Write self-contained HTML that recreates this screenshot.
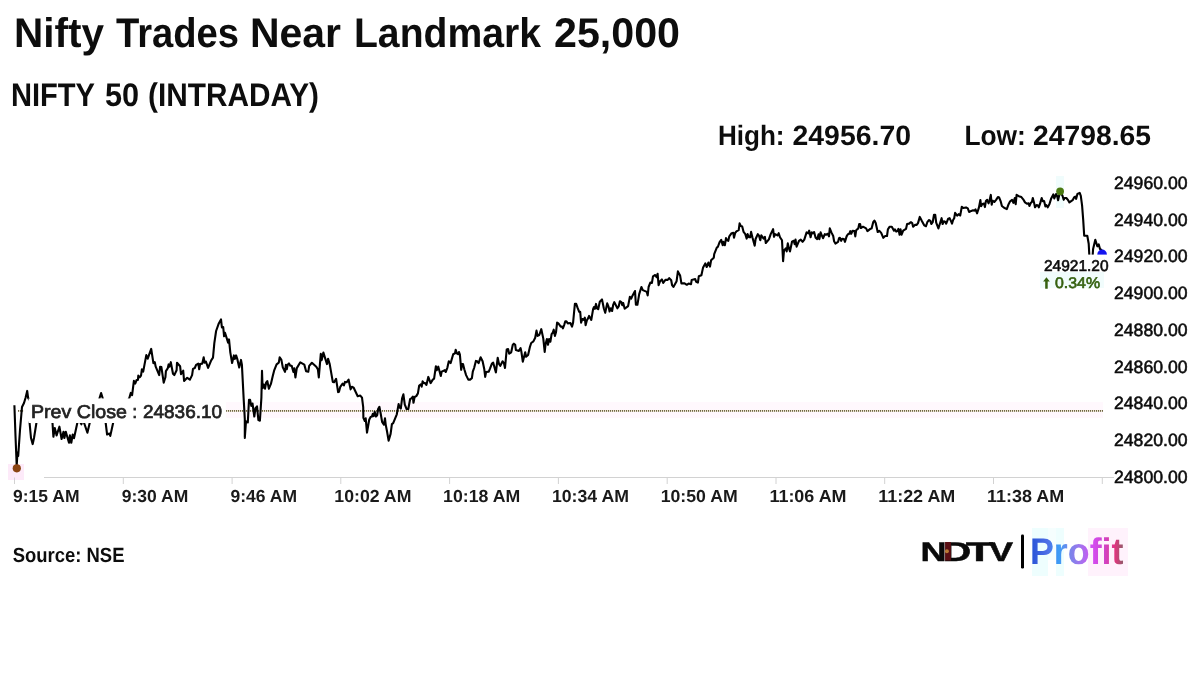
<!DOCTYPE html>
<html lang="en">
<head>
<meta charset="utf-8">
<title>Nifty Trades Near Landmark 25,000</title>
<style>
html,body{margin:0;padding:0;background:#fff;}
body{width:1200px;height:675px;overflow:hidden;font-family:"Liberation Sans",sans-serif;}
svg{display:block;}
text{font-family:"Liberation Sans",sans-serif;text-rendering:geometricPrecision;}
.b{font-weight:700;}
</style>
</head>
<body>
<svg width="1200" height="675" viewBox="0 0 1200 675">
<defs>
<linearGradient id="pg" gradientUnits="userSpaceOnUse" x1="1032" y1="0" x2="1124" y2="0">
<stop offset="0" stop-color="#2b55d8"/>
<stop offset="0.17" stop-color="#4f6fe6"/>
<stop offset="0.29" stop-color="#3b9cf6"/>
<stop offset="0.42" stop-color="#7b84ea"/>
<stop offset="0.53" stop-color="#a374ee"/>
<stop offset="0.66" stop-color="#d44df2"/>
<stop offset="0.78" stop-color="#cf45cf"/>
<stop offset="0.90" stop-color="#e2347f"/>
<stop offset="1" stop-color="#8a6068"/>
</linearGradient>
</defs>
<rect width="1200" height="675" fill="#fff"/>

<!-- faint tints -->
<g>
<rect x="8" y="464" width="16" height="16" fill="#fdeaf9"/>
<rect x="226" y="402" width="877" height="16" fill="#fff8fd"/>
<rect x="1056" y="176" width="8" height="32" fill="#f0fcfc"/>
<rect x="1032" y="528" width="16" height="48" fill="#eefefe"/>
<rect x="1048" y="528" width="8" height="32" fill="#f5fefe"/>
<rect x="1056" y="528" width="8" height="48" fill="#eefefe"/>
<rect x="1088" y="528" width="40" height="48" fill="#fff2fc"/>
</g>

<!-- headings -->
<g class="b" fill="#0d0d0d">
<text x="13.95" y="46.5" font-size="41.4" textLength="90.05" lengthAdjust="spacingAndGlyphs" >Nifty</text><text x="116.00" y="46.5" font-size="41.4" textLength="123.00" lengthAdjust="spacingAndGlyphs" >Trades</text><text x="249.92" y="46.5" font-size="41.4" textLength="91.08" lengthAdjust="spacingAndGlyphs" >Near</text><text x="353.98" y="46.5" font-size="41.4" textLength="187.02" lengthAdjust="spacingAndGlyphs" >Landmark</text><text x="553.98" y="46.5" font-size="41.4" textLength="126.03" lengthAdjust="spacingAndGlyphs" >25,000</text>
<text x="10.95" y="105.5" font-size="32.7" textLength="84.07" lengthAdjust="spacingAndGlyphs" >NIFTY</text><text x="104.96" y="105.5" font-size="32.7" textLength="34.08" lengthAdjust="spacingAndGlyphs" >50</text><text x="147.99" y="105.5" font-size="32.7" textLength="171.02" lengthAdjust="spacingAndGlyphs" >(INTRADAY)</text>
<text x="717.95" y="145.0" font-size="27.9" textLength="66.63" lengthAdjust="spacingAndGlyphs" >High:</text><text x="792.48" y="145.0" font-size="27.9" textLength="118.53" lengthAdjust="spacingAndGlyphs" >24956.70</text>
<text x="964.41" y="145.0" font-size="27.9" textLength="61.45" lengthAdjust="spacingAndGlyphs" >Low:</text><text x="1032.99" y="145.0" font-size="27.9" textLength="118.02" lengthAdjust="spacingAndGlyphs" >24798.65</text>
</g>

<!-- axis -->
<g stroke="#d2d2d2" stroke-width="1" fill="none">
<line x1="44" y1="477.5" x2="1114" y2="477.5"/>
<line x1="14.5" y1="477.5" x2="14.5" y2="484" /><line x1="123.3" y1="477.5" x2="123.3" y2="484" /><line x1="232.1" y1="477.5" x2="232.1" y2="484" /><line x1="340.8" y1="477.5" x2="340.8" y2="484" /><line x1="449.6" y1="477.5" x2="449.6" y2="484" /><line x1="558.4" y1="477.5" x2="558.4" y2="484" /><line x1="667.2" y1="477.5" x2="667.2" y2="484" /><line x1="776.0" y1="477.5" x2="776.0" y2="484" /><line x1="884.7" y1="477.5" x2="884.7" y2="484" /><line x1="993.5" y1="477.5" x2="993.5" y2="484" /><line x1="1102.3" y1="477.5" x2="1102.3" y2="484" />
</g>

<!-- prev close dotted line -->
<path d="M18 410.9H23.5M226 410.9H1103" fill="none" stroke="#e9e3cd" stroke-width="1.7"/><path d="M18 410.9H23.5M226 410.9H1103" fill="none" stroke="#6f6545" stroke-width="1.7" stroke-dasharray="1 1"/>

<!-- price line -->
<polyline fill="none" stroke="#000" stroke-width="2.1" stroke-linejoin="round" stroke-linecap="butt" points="14.4,405.3 15.5,436.0 16.7,465.5 17.5,452.5 18.2,456.0 20.0,430.0 22.0,407.0 24.0,403.0 25.5,398.0 27.2,390.9 28.1,397.8 30.2,401.0 30.2,420.0 29.6,423.0 31.0,438.0 32.7,444.1 34.0,438.0 36.4,423.0 38.0,415.0 42.0,412.0 46.0,416.0 50.0,414.0 52.5,423.0 53.4,436.8 54.8,428.0 56.6,435.4 59.4,426.7 61.6,439.0 63.5,431.7 64.4,438.0 65.8,431.7 69.0,442.8 69.9,435.4 71.3,442.8 72.7,434.5 74.0,438.2 77.3,423.0 79.0,420.0 81.4,424.3 82.5,420.0 84.1,423.0 87.4,432.7 89.7,423.0 92.0,415.0 95.0,410.0 98.0,405.0 99.5,398.3 101.1,393.0 102.7,398.3 104.0,410.0 105.7,423.0 107.1,434.5 109.4,433.6 110.3,435.9 113.1,423.0 116.0,415.0 120.0,410.0 124.0,406.0 127.0,402.0 129.4,397.8 130.8,392.9 132.1,395.1 133.9,380.9 135.2,383.6 136.6,380.0 137.9,380.0 138.3,375.6 139.7,377.3 141.0,375.6 141.9,369.3 143.2,371.6 146.3,355.1 147.7,358.7 151.2,348.9 153.4,363.1 154.8,362.2 155.7,366.7 159.2,375.1 160.1,366.7 161.4,367.1 163.7,382.7 165.4,377.3 165.9,371.1 167.7,368.4 168.6,364.4 169.4,366.7 170.8,362.2 173.0,373.8 174.3,375.1 176.6,370.2 177.0,362.7 180.1,366.2 181.0,374.2 183.2,370.7 184.1,380.9 187.2,377.8 189.9,379.6 192.1,375.1 193.0,368.9 194.8,368.0 196.1,364.9 198.3,363.6 199.2,369.3 200.1,364.0 202.3,363.6 203.7,357.3 204.6,362.7 205.9,361.5 208.1,367.9 211.2,360.3 213.0,357.7 214.3,343.4 216.1,331.0 218.8,323.4 221.0,319.4 221.9,327.4 223.2,327.0 224.1,336.3 225.0,332.8 228.1,342.6 229.0,339.4 230.3,352.3 232.1,363.0 233.9,355.4 234.8,359.0 236.1,355.4 237.4,359.4 239.2,367.4 241.0,359.9 241.9,364.6 243.6,397.6 244.8,418.9 244.8,437.9 246.0,421.3 247.8,422.4 249.0,399.9 250.1,399.9 251.3,405.9 252.5,403.5 254.3,416.5 255.5,408.2 257.0,406.4 258.4,420.1 259.9,420.7 261.4,397.6 262.0,370.9 262.6,388.1 263.8,384.5 265.0,388.7 266.1,382.7 267.3,381.0 268.9,388.7 270.9,383.9 272.7,376.2 274.3,370.1 276.6,364.3 278.8,362.6 279.7,357.2 281.4,359.9 282.8,367.4 285.0,371.9 285.9,364.8 286.8,369.2 287.7,364.8 289.0,363.4 290.3,365.7 291.7,365.7 293.4,371.9 294.3,368.3 295.4,377.5 296.8,368.1 300.3,362.3 304.3,364.6 306.1,371.2 308.3,371.7 309.2,365.9 311.9,362.8 316.3,366.8 317.9,369.4 318.8,377.4 320.8,353.9 321.7,360.1 323.4,352.6 327.0,364.1 328.1,358.8 329.7,364.1 332.8,381.9 334.1,382.3 336.1,378.8 338.1,392.1 339.0,391.7 340.3,386.8 342.6,383.7 343.9,385.4 345.0,381.9 346.6,382.3 348.6,379.7 350.6,389.4 351.9,386.8 353.7,387.7 357.7,396.3 360.3,395.6 362.0,397.7 363.2,407.2 363.4,417.9 364.8,421.0 365.7,418.3 367.0,432.6 369.2,419.7 370.6,417.0 371.9,416.6 372.8,413.9 373.7,416.1 374.7,411.7 375.9,416.6 377.2,415.2 378.1,409.0 379.4,406.8 380.8,414.3 382.1,421.9 383.9,424.6 385.0,418.3 385.7,424.6 387.0,431.2 388.6,440.6 390.6,433.9 391.9,424.1 393.2,423.2 396.8,414.3 398.6,404.1 399.4,407.2 400.8,408.6 402.1,398.3 403.4,394.3 404.8,404.6 406.6,409.0 408.3,409.0 410.1,399.2 411.4,398.3 412.8,396.6 413.5,402.8 414.6,397.0 416.3,396.1 417.9,393.4 419.2,385.5 420.8,384.4 421.7,386.7 422.6,381.3 423.9,383.1 425.2,383.1 426.4,384.9 428.3,376.9 430.6,383.1 432.8,379.6 434.1,378.7 435.9,366.2 436.8,370.2 438.3,366.7 440.8,376.0 441.7,371.6 444.8,370.2 445.7,372.0 447.4,367.6 448.8,361.3 450.6,363.1 453.2,354.2 455.0,353.3 455.7,349.8 456.8,353.3 458.1,354.2 459.0,352.0 459.9,354.7 461.2,369.8 462.1,364.0 463.0,364.0 464.3,369.3 466.1,375.1 468.3,379.6 470.1,379.6 471.9,378.2 472.8,371.6 474.1,368.0 475.9,360.9 477.2,361.3 478.6,363.1 480.6,357.3 482.6,361.3 484.3,369.3 485.2,376.9 486.1,372.0 488.8,371.6 490.1,368.4 491.9,363.6 493.2,362.7 495.9,372.4 497.7,357.8 499.0,364.0 500.3,365.8 502.6,361.3 503.9,363.1 505.0,368.0 506.7,349.5 508.1,349.0 509.2,353.7 511.2,352.3 512.8,344.8 513.9,343.7 515.2,344.8 515.9,350.1 518.8,351.0 520.6,348.1 521.4,351.9 522.8,361.7 525.2,352.3 526.1,356.8 528.1,355.0 529.9,347.0 531.2,343.0 533.4,341.4 535.2,337.7 536.5,330.6 537.6,335.9 539.3,335.0 541.3,329.2 543.3,338.6 544.7,351.9 545.6,343.9 546.9,339.0 548.0,344.8 549.1,339.0 550.4,341.7 551.6,334.1 552.7,332.8 553.7,329.7 554.9,335.9 556.0,332.3 557.1,322.6 558.4,323.4 560.7,326.6 562.0,326.6 562.9,328.3 564.4,324.3 565.3,321.2 566.4,321.2 567.8,323.4 570.4,323.0 572.0,326.6 573.1,322.6 574.2,311.0 574.9,303.9 576.2,303.9 577.6,307.9 579.2,311.9 580.2,311.9 581.1,322.6 582.4,319.0 583.8,319.9 584.8,317.7 585.6,325.2 586.9,320.3 588.2,318.1 589.1,315.9 591.3,319.9 593.1,309.2 594.0,307.0 594.9,308.8 596.0,303.9 596.9,308.3 598.2,309.2 599.8,301.7 602.0,299.4 603.8,308.3 605.2,312.8 607.2,303.4 608.6,307.0 609.6,311.4 610.8,308.3 612.1,311.0 613.2,304.8 614.3,302.1 617.4,308.3 618.8,306.1 619.9,301.2 621.4,302.1 622.3,305.2 623.2,303.0 624.7,308.8 628.1,306.1 629.9,296.8 631.2,298.6 632.6,295.4 635.0,291.0 635.9,304.8 637.4,304.8 639.2,294.1 641.4,287.0 642.8,290.1 646.8,291.9 647.7,295.4 648.6,287.0 650.3,282.6 651.9,283.0 653.0,276.3 655.2,275.0 656.6,277.2 657.6,273.7 658.6,285.2 660.1,281.2 661.9,279.4 663.2,283.0 665.4,279.9 667.7,279.9 669.2,278.1 671.2,280.3 672.1,285.2 673.4,287.0 676.6,281.2 677.9,271.4 680.1,275.4 681.4,283.4 684.6,283.4 686.8,284.8 688.6,283.6 691.0,284.3 691.7,279.9 695.2,279.0 696.1,281.7 697.9,282.6 698.8,276.3 701.4,275.3 703.1,267.4 705.3,263.4 706.7,267.0 708.4,262.6 710.0,266.6 711.1,260.3 713.8,257.7 714.2,254.1 716.9,247.4 717.8,247.0 719.6,242.1 721.2,239.9 722.7,245.2 723.3,241.7 724.9,245.2 726.0,238.1 727.1,240.3 728.3,240.8 729.3,236.3 731.6,233.2 733.3,232.8 734.0,237.7 735.1,233.2 736.4,231.4 738.7,230.1 739.6,223.4 740.9,226.1 742.2,226.6 743.6,231.9 745.3,234.1 746.7,238.6 747.6,234.1 748.9,237.2 750.2,237.2 751.1,231.9 752.4,237.2 754.7,245.7 755.6,239.0 757.8,234.1 759.1,235.9 760.3,240.3 761.3,235.4 763.6,238.6 764.9,236.8 765.8,243.0 768.9,239.4 770.7,234.1 773.1,229.2 774.0,236.8 775.1,234.1 777.5,235.4 778.7,233.2 780.0,237.2 782.0,240.3 783.1,261.2 784.0,250.6 785.8,248.3 786.7,251.4 787.8,243.4 788.9,248.3 790.0,251.4 792.0,241.7 793.8,240.8 794.7,244.3 795.5,239.5 796.6,246.7 799.0,240.9 800.8,239.6 802.6,241.8 804.3,239.6 806.6,232.4 808.3,233.3 809.2,230.7 810.6,237.3 811.7,232.4 812.8,233.3 814.1,232.0 815.6,237.8 817.2,239.1 818.6,234.2 819.4,239.1 820.6,232.4 821.7,235.1 823.0,238.2 824.8,234.2 826.1,234.7 827.9,233.8 829.0,236.4 829.8,228.4 831.4,232.4 833.2,236.0 834.1,241.3 835.4,243.6 838.1,241.8 839.0,238.2 839.9,237.8 841.2,240.9 842.1,238.7 843.9,239.1 845.0,241.8 846.6,236.4 847.9,234.2 849.2,233.8 850.3,231.1 851.2,233.8 852.6,230.7 854.4,231.1 855.3,236.4 856.2,230.2 858.3,228.4 859.2,224.0 860.1,224.0 860.9,228.0 863.0,226.7 866.1,228.4 867.4,231.1 869.7,229.3 871.6,228.4 873.2,222.2 874.4,220.6 875.7,223.1 877.7,232.0 879.4,230.9 881.2,232.9 883.3,237.8 885.2,236.0 887.0,236.0 887.9,229.3 889.7,226.7 891.8,226.7 894.0,230.7 894.9,229.3 896.2,231.6 897.6,231.1 898.4,228.9 899.6,234.7 900.5,229.3 901.6,234.7 903.2,230.7 906.0,228.9 907.1,224.0 909.1,223.6 910.9,222.2 912.2,223.1 913.1,226.7 914.9,224.9 916.7,224.9 918.0,223.1 919.8,216.9 922.0,221.3 924.2,225.3 926.0,226.2 927.3,222.2 929.1,220.0 930.4,220.9 931.3,224.0 932.7,222.2 934.0,214.7 935.2,214.7 936.2,222.7 938.4,228.4 940.2,222.7 941.6,218.2 942.6,224.0 943.8,221.3 945.1,221.8 946.2,223.6 948.2,218.7 949.6,218.2 950.9,220.9 952.0,223.6 953.1,220.0 954.2,218.2 955.1,212.9 957.1,215.6 958.9,214.2 960.2,215.6 961.8,206.7 963.3,208.0 966.0,207.4 967.8,208.4 969.1,212.0 971.3,210.9 973.1,210.2 974.4,210.7 975.5,209.3 977.1,213.3 978.9,207.6 980.4,200.0 981.1,206.2 982.4,204.0 984.0,203.6 984.9,207.1 985.9,201.1 987.2,199.8 988.6,203.3 989.6,200.2 990.8,194.9 991.7,204.7 992.6,200.7 994.3,202.0 996.1,199.8 997.9,197.1 999.2,197.6 1000.6,201.1 1001.9,206.0 1004.1,207.8 1006.8,209.1 1008.6,204.2 1009.9,201.6 1012.1,199.8 1013.4,202.9 1014.8,198.0 1015.7,204.2 1016.6,194.9 1018.8,196.2 1021.4,197.1 1023.2,199.3 1025.0,202.4 1027.2,203.8 1028.6,203.3 1029.4,206.0 1030.8,202.9 1031.9,202.0 1032.8,198.0 1034.1,202.9 1035.0,207.3 1036.6,205.1 1037.9,205.6 1038.8,207.3 1040.3,202.9 1041.7,198.0 1042.8,201.1 1044.1,201.1 1045.4,206.4 1046.3,205.1 1047.7,207.3 1049.4,204.2 1051.2,198.4 1053.3,194.4 1054.3,198.4 1056.1,194.0 1057.2,196.2 1058.1,200.2 1059.2,195.3 1060.6,192.2 1062.5,195.8 1063.7,199.8 1064.6,198.0 1066.3,198.0 1068.1,200.2 1069.4,202.4 1072.6,200.2 1074.3,197.1 1075.2,196.7 1076.1,198.9 1077.4,194.0 1079.7,192.9 1080.8,195.8 1082.1,205.6 1083.2,219.8 1084.2,235.7 1087.3,235.7 1088.7,243.7 1089.3,254.6 1090.0,262.0 1092.0,262.0 1092.7,254.6 1093.1,249.0 1095.3,239.7 1097.3,246.3 1098.7,244.3 1100.0,249.0 1102.0,250.3"/>

<!-- markers -->
<circle cx="16.8" cy="468.3" r="4.1" fill="#8b4513"/>
<circle cx="1060.1" cy="191.3" r="3.9" fill="#4b7a12"/>
<circle cx="1102.1" cy="254.4" r="4.8" fill="#1414f0"/>

<!-- prev close label -->
<rect x="28.6" y="398.4" width="197.5" height="24.6" fill="#fff"/>
<g fill="#222" stroke="#222" stroke-width="0.7"><text x="30.97" y="417.5" font-size="18.6" textLength="96.04" lengthAdjust="spacingAndGlyphs" >Prev Close</text><text x="132.32" y="417.5" font-size="18.6" textLength="4.95" lengthAdjust="spacingAndGlyphs" >:</text><text x="142.97" y="417.5" font-size="18.6" textLength="79.05" lengthAdjust="spacingAndGlyphs" >24836.10</text></g>

<!-- last value label -->
<rect x="1040" y="254.6" width="72" height="38" fill="#fff"/>
<rect x="1040" y="272" width="64" height="16" fill="#f1fcfc"/>
<g fill="#0c0c0c" stroke="#0c0c0c" stroke-width="0.6"><text x="1043.99" y="271.3" font-size="15.5" textLength="64.51" lengthAdjust="spacingAndGlyphs" >24921.20</text></g>
<g fill="#35600f" stroke="#35600f" stroke-width="0.6">
<path stroke="none" d="M1046.45 277.3 L1049.8 281.6 L1047.7 281.6 L1047.7 288.8 L1045.2 288.8 L1045.2 281.6 L1043.1 281.6 Z"/>
<text x="1054.98" y="287.9" font-size="15.4" textLength="45.04" lengthAdjust="spacingAndGlyphs" >0.34%</text>
</g>

<!-- y labels -->
<g fill="#0c0c0c" stroke="#0c0c0c" stroke-width="0.55">
<text x="1113.99" y="188.7" font-size="17.85" textLength="73.53" lengthAdjust="spacingAndGlyphs" >24960.00</text><text x="1113.99" y="225.5" font-size="17.85" textLength="73.53" lengthAdjust="spacingAndGlyphs" >24940.00</text><text x="1113.99" y="262.2" font-size="17.85" textLength="73.53" lengthAdjust="spacingAndGlyphs" >24920.00</text><text x="1113.99" y="299.0" font-size="17.85" textLength="73.53" lengthAdjust="spacingAndGlyphs" >24900.00</text><text x="1113.99" y="335.8" font-size="17.85" textLength="73.53" lengthAdjust="spacingAndGlyphs" >24880.00</text><text x="1113.99" y="372.6" font-size="17.85" textLength="73.53" lengthAdjust="spacingAndGlyphs" >24860.00</text><text x="1113.99" y="409.3" font-size="17.85" textLength="73.53" lengthAdjust="spacingAndGlyphs" >24840.00</text><text x="1113.99" y="446.1" font-size="17.85" textLength="73.53" lengthAdjust="spacingAndGlyphs" >24820.00</text><text x="1113.99" y="482.9" font-size="17.85" textLength="73.53" lengthAdjust="spacingAndGlyphs" >24800.00</text>
</g>

<!-- x labels -->
<g class="b" fill="#1a1a1a">
<text x="13.00" y="501.6" font-size="17.4" textLength="66.53" lengthAdjust="spacingAndGlyphs" >9:15 AM</text><text x="121.78" y="501.6" font-size="17.4" textLength="66.53" lengthAdjust="spacingAndGlyphs" >9:30 AM</text><text x="230.56" y="501.6" font-size="17.4" textLength="66.53" lengthAdjust="spacingAndGlyphs" >9:46 AM</text><text x="334.34" y="501.6" font-size="17.4" textLength="77.05" lengthAdjust="spacingAndGlyphs" >10:02 AM</text><text x="443.12" y="501.6" font-size="17.4" textLength="77.05" lengthAdjust="spacingAndGlyphs" >10:18 AM</text><text x="551.90" y="501.6" font-size="17.4" textLength="77.05" lengthAdjust="spacingAndGlyphs" >10:34 AM</text><text x="660.68" y="501.6" font-size="17.4" textLength="77.05" lengthAdjust="spacingAndGlyphs" >10:50 AM</text><text x="769.46" y="501.6" font-size="17.4" textLength="77.05" lengthAdjust="spacingAndGlyphs" >11:06 AM</text><text x="878.24" y="501.6" font-size="17.4" textLength="77.05" lengthAdjust="spacingAndGlyphs" >11:22 AM</text><text x="987.02" y="501.6" font-size="17.4" textLength="77.05" lengthAdjust="spacingAndGlyphs" >11:38 AM</text>
</g>

<!-- footer -->
<g class="b" fill="#0d0d0d"><text x="12.74" y="562.2" font-size="20.6" textLength="111.76" lengthAdjust="spacingAndGlyphs" >Source: NSE</text></g>

<!-- logo -->
<text class="b" y="560.5" font-size="26.9" fill="#0a0a0a" stroke="#0a0a0a" stroke-width="0.5" aria-label="NDTV"><tspan x="920.64" textLength="26.08" lengthAdjust="spacingAndGlyphs">N</tspan><tspan x="942.70" textLength="28.43" lengthAdjust="spacingAndGlyphs">D</tspan><tspan x="966.00" textLength="27.00" lengthAdjust="spacingAndGlyphs">T</tspan><tspan x="989.00" textLength="24.00" lengthAdjust="spacingAndGlyphs">V</tspan></text>
<rect x="944.9" y="542" width="6" height="18.5" fill="#5a0f14"/>
<rect x="944.4" y="542" width="0.7" height="18.5" fill="#8a8080"/>
<circle cx="946.9" cy="551.2" r="2" fill="#b87a35"/>
<rect x="1021" y="534.5" width="3" height="34" rx="1.2" fill="#000"/>
<g class="b" fill="url(#pg)"><text x="1029.95" y="564.0" font-size="37" textLength="93.56" lengthAdjust="spacingAndGlyphs" >Profit</text></g>
</svg>
</body>
</html>
